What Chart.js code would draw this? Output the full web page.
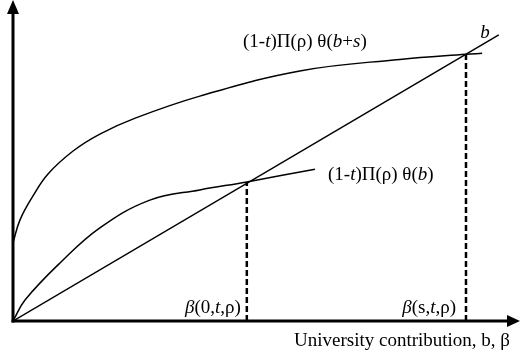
<!DOCTYPE html>
<html><head><meta charset="utf-8">
<script src="https://cdn.jsdelivr.net/npm/chart.js@4/dist/chart.umd.min.js"></script>
<style>html,body{margin:0;padding:0;background:#fff;} canvas{display:block;}</style>
</head><body>
<canvas id="c" width="524" height="356"></canvas>
<script>
// Upper curve (1-t)Π(ρ)θ(b+s)
const upperCurveX = [0, 1.39, 3.96, 6.93, 11.9, 17.2, 24.2, 37.0, 56.8, 76.6, 89.7, 92.9];
const upperCurveY = [24.5, 31.7, 39.2, 46.1, 53.3, 58.6, 63.6, 70.5, 78.4, 82.0, 83.6, 83.9];
// Lower curve (1-t)Π(ρ)θ(b)
const lowerCurveX = [0, 2.38, 9.31, 17.2, 27.1, 37.0, 46.3, 59.8];
const lowerCurveY = [0, 6.58, 18.2, 29.2, 37.9, 41.1, 43.6, 47.6];
// line b
const lineX = [0, 96.2];
const lineY = [0, 89.7];
// intersection points (β values)
const betaX = [46.3, 89.7];
const betaY = [43.6, 83.6];
const tickLabels = [
  [['β',1],['(0,',0],['t',1],[',ρ)',0]],
  [['β',1],['(s,',0],['t',1],[',ρ)',0]]
];
const upperLabel = [['(1-',0],['t',1],[')Π(ρ) θ(',0],['b',1],['+',0],['s',1],[')',0]];
const lowerLabel = [['(1-',0],['t',1],[')Π(ρ) θ(',0],['b',1],[')',0]];
const lineLabel = [['b',1]];
const xTitle = [['University contribution, b, β',0]];

const FS = 19;
const FAM = '"Liberation Serif", "Times New Roman", serif';
function font(it){ return (it ? 'italic ' : '') + FS + 'px ' + FAM; }
function richWidth(ctx, segs){ let w=0; for (const [t,it] of segs){ ctx.font=font(it); w+=ctx.measureText(t).width; } return w; }
function drawRich(ctx, segs, x, y, align){
  let w = richWidth(ctx, segs);
  let cx = align==='right' ? x-w : align==='center' ? x-w/2 : x;
  ctx.fillStyle='#000'; ctx.textBaseline='middle'; ctx.textAlign='left';
  for (const [t,it] of segs){ ctx.font=font(it); ctx.fillText(t,cx,y); cx+=ctx.measureText(t).width; }
}

const decor = {
  id:'decor',
  afterDatasetsDraw(chart){
    const ctx = chart.ctx, xs = chart.scales.x, ys = chart.scales.y, a = chart.chartArea;
    const ox = xs.getPixelForValue(0), oy = ys.getPixelForValue(0);
    ctx.save();
    ctx.strokeStyle='#000'; ctx.fillStyle='#000'; ctx.lineWidth=3;
    // y axis
    ctx.beginPath(); ctx.moveTo(ox, oy+1.5); ctx.lineTo(ox, a.top+10); ctx.stroke();
    ctx.beginPath(); ctx.moveTo(ox, a.top-2); ctx.lineTo(ox-6, a.top+12); ctx.lineTo(ox+6, a.top+12); ctx.closePath(); ctx.fill();
    // x axis
    ctx.beginPath(); ctx.moveTo(ox-1.5, oy); ctx.lineTo(a.right-8, oy); ctx.stroke();
    ctx.beginPath(); ctx.moveTo(a.right+2, oy); ctx.lineTo(a.right-11, oy-6); ctx.lineTo(a.right-11, oy+6); ctx.closePath(); ctx.fill();
    // labels
    drawRich(ctx, upperLabel, 243, 42, 'left');
    drawRich(ctx, lowerLabel, 328, 175, 'left');
    drawRich(ctx, lineLabel, 485, 33, 'center');
    drawRich(ctx, tickLabels[0], xs.getPixelForValue(betaX[0]) - 6, oy - 13, 'right');
    drawRich(ctx, tickLabels[1], xs.getPixelForValue(betaX[1]) - 10, oy - 13, 'right');
    drawRich(ctx, xTitle, 510, oy + 20, 'right');
    ctx.restore();
  }
};

const pts = (xs, ys) => xs.map((x,i)=>({x, y:ys[i]}));
new Chart(document.getElementById('c'), {
  type:'scatter',
  data:{ datasets:[
    {data:pts(upperCurveX, upperCurveY), showLine:true, borderColor:'#000', borderWidth:1.5, pointRadius:0, tension:0.4, fill:false},
    {data:pts(lowerCurveX, lowerCurveY), showLine:true, borderColor:'#000', borderWidth:1.5, pointRadius:0, tension:0.4, fill:false},
    {data:pts(lineX, lineY), showLine:true, borderColor:'#000', borderWidth:1.5, pointRadius:0, fill:false},
    {data:[{x:betaX[0],y:0},{x:betaX[0],y:betaY[0]}], showLine:true, borderColor:'#000', borderWidth:2.5, borderDash:[6,3], pointRadius:0},
    {data:[{x:betaX[1],y:0},{x:betaX[1],y:betaY[1]}], showLine:true, borderColor:'#000', borderWidth:2.5, borderDash:[6,3], pointRadius:0}
  ]},
  options:{
    responsive:false, animation:false, devicePixelRatio:1,
    layout:{padding:{left:13, right:6, top:2, bottom:35}},
    plugins:{legend:{display:false}, tooltip:{enabled:false}},
    scales:{
      x:{type:'linear', min:0, max:100, display:false},
      y:{type:'linear', min:0, max:100, display:false}
    }
  },
  plugins:[decor]
});
</script>
</body></html>
